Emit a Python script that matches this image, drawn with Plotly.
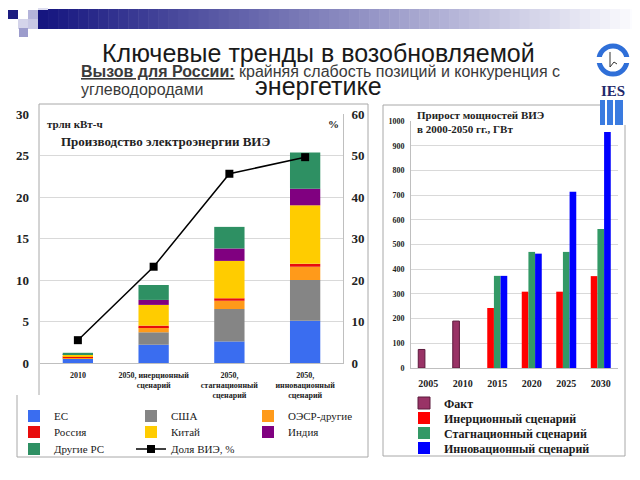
import plotly.graph_objects as go

# --- DATA: left chart (трлн кВт-ч) ---
left_categories = [
    "2010",
    "2050, инерционный<br>сценарий",
    "2050,<br>стагнационный<br>сценарий",
    "2050,<br>инновационный<br>сценарий",
]
eu = [0.5, 2.2, 2.6, 5.1]
usa = [0.1, 1.5, 3.9, 4.9]
oecd_other = [0.1, 0.6, 1.0, 1.6]
russia = [0.03, 0.2, 0.3, 0.35]
china = [0.25, 2.5, 4.5, 7.05]
india = [0.05, 0.6, 1.5, 2.0]
other_dev = [0.2, 1.8, 2.6, 4.35]
res_share = [5.5, 23.2, 45.6, 49.6]

# --- DATA: right chart (ГВт) ---
years = ["2005", "2010", "2015", "2020", "2025", "2030"]
fact = [75, 190, None, None, None, None]
inertial = [None, None, 243, 309, 309, 372]
stagnation = [None, None, 373, 470, 470, 563]
innovation = [None, None, 373, 463, 714, 955]

SERIF = "Liberation Serif"
SANS = "Liberation Sans"
# page body has an 8px margin, so the figure is a bit smaller than the window
OFF = 8
W, H = 640 - OFF, 480 - OFF


def px(x):
    return (x - OFF) / W


def py(y):
    return 1 - (y - OFF) / H


fig = go.Figure()

# left stacked bars (base carried through the list order)
left_series = [
    ("ЕС", eu, "#3A6DF0", "legend"),
    ("США", usa, "#858585", "legend"),
    ("ОЭСР-другие", oecd_other, "#FF9A1A", "legend"),
    ("Россия", russia, "#E80C0C", "legend2"),
    ("Китай", china, "#FFCC00", "legend2"),
    ("Индия", india, "#800080", "legend2"),
    ("Другие РС", other_dev, "#2E9063", "legend3"),
]
base = [0] * len(left_categories)
for name, vals, color, leg in left_series:
    fig.add_bar(
        x=left_categories, y=vals, base=list(base), name=name,
        marker=dict(color=color, line=dict(width=0)),
        width=0.4, offsetgroup="L", xaxis="x", yaxis="y", legend=leg,
    )
    base = [b + v for b, v in zip(base, vals)]

fig.add_scatter(
    x=left_categories, y=res_share, name="Доля ВИЭ, %",
    mode="lines+markers", line=dict(color="black", width=1.5),
    marker=dict(symbol="square", size=8, color="black"),
    xaxis="x", yaxis="y2", legend="legend3",
)

# right grouped bars
right_series = [
    ("Факт", fact, "#993366", "a", "legend4"),
    ("Инерционный сценарий", inertial, "#FF0000", "a", "legend5"),
    ("Стагнационный сценарий", stagnation, "#339966", "b", "legend6"),
    ("Инновационный сценарий", innovation, "#0000FF", "c", "legend7"),
]
for name, vals, color, grp, leg in right_series:
    line = dict(width=1, color="#5c1a3d") if name == "Факт" else dict(width=0)
    fig.add_bar(
        x=years, y=vals, name=name, marker=dict(color=color, line=line),
        offsetgroup=grp, xaxis="x3", yaxis="y3", legend=leg,
    )


def tick_serif(s, bold=True):
    return dict(family=SERIF, size=s, color="#222",
                weight="bold" if bold else "normal")


# --- decorations ---
shapes = []
# top banner gradient
n = 60
x0, x1 = 38, 640
for i in range(n):
    t = i / (n - 1)
    c = tuple(int(a + (b - a) * t) for a, b in zip((22, 22, 128), (252, 252, 255)))
    xa = x0 + (x1 - x0) * i / n
    xb = x0 + (x1 - x0) * (i + 1) / n + 0.5
    shapes.append(dict(type="rect", xref="paper", yref="paper",
                       x0=px(xa), x1=px(xb), y0=py(29), y1=py(9),
                       fillcolor="rgb(%d,%d,%d)" % c, line=dict(width=0)))
squares = [
    (8, 10, 18, 19, "#1c1c80"), (28, 10, 38, 20, "#b4b4da"),
    (38, 0, 48, 10, "#dcdcef"), (18, 19, 28, 29, "#d4d4ea"),
    (19, 28, 28, 37, "#9c9ccc"), (28, 19, 38, 29, "#c8c8e4"),
]
for a, b, c, d, col in squares:
    shapes.append(dict(type="rect", xref="paper", yref="paper",
                       x0=px(a), x1=px(c), y0=py(d), y1=py(b),
                       fillcolor=col, line=dict(width=0)))

# panel borders
border = dict(color="#a8a8a8", width=1)
for (a, b, c, d) in [(39, 104, 368, 104), (368, 104, 368, 457),
                     (17, 457, 368, 457), (17, 395, 17, 457),
                     (39, 104, 39, 395),
                     (383, 105, 600, 105), (383, 105, 383, 456),
                     (383, 456, 625, 456), (625, 125, 625, 456)]:
    shapes.append(dict(type="line", xref="paper", yref="paper",
                       x0=px(a), x1=px(c), y0=py(b), y1=py(d), line=border))

# logo
shapes.append(dict(type="circle", xref="paper", yref="paper",
                   x0=px(599), x1=px(627), y0=py(74), y1=py(46),
                   line=dict(color="#2f6fd8", width=5)))
for a, c in [(594, 602), (624, 632)]:
    shapes.append(dict(type="rect", xref="paper", yref="paper",
                       x0=px(a), x1=px(c), y0=py(63), y1=py(57),
                       fillcolor="white", line=dict(width=0)))
shapes.append(dict(type="path", xref="paper", yref="paper",
                   path="M %f %f L %f %f L %f %f L %f %f" % (
                       px(610), py(52), px(610), py(67), px(614), py(62), px(617), py(64)),
                   line=dict(color="#333", width=1)))
for a, c in [(600, 605), (607, 613), (615, 623)]:
    shapes.append(dict(type="rect", xref="paper", yref="paper",
                       x0=px(a), x1=px(c), y0=py(125), y1=py(100),
                       fillcolor="#3a7be0", line=dict(width=0)))


def note(text, x, y, font, xanchor="left", **kw):
    return dict(text=text, x=px(x), y=py(y), xref="paper", yref="paper",
                xanchor=xanchor, yanchor="middle", showarrow=False, font=font, **kw)


annotations = [
    note("Ключевые тренды в возобновляемой<br>энергетике", 318, 70,
         dict(family=SANS, size=25, color="#1a1a1a"), xanchor="center"),
    note("<b><u>Вызов для России:</u></b> крайняя слабость позиций и конкуренция с",
         79, 72, dict(family=SANS, size=16, color="#3a3a3a")),
    note("углеводородами", 79, 90, dict(family=SANS, size=16, color="#3a3a3a")),
    note("трлн кВт-ч", 45, 124, tick_serif(11)),
    note("%", 341, 124, tick_serif(11), xanchor="right"),
    note("Производство электроэнергии ВИЭ", 59, 141, tick_serif(13)),
    note("Прирост мощностей ВИЭ<br>в 2000-2050 гг., ГВт", 415, 122,
         tick_serif(11), align="left"),
    note("<b>IES</b>", 613, 91, dict(family=SERIF, size=15, color="#1f2a6b"),
         xanchor="center"),
]


def leg(x, y, size=11, bold=False, width=None):
    d = dict(x=px(x), y=py(y), xanchor="left", yanchor="middle",
             orientation="h", bgcolor="rgba(0,0,0,0)", borderwidth=0,
             itemclick=False,
             font=dict(family=SERIF, size=size, color="#1a1a1a",
                       weight="bold" if bold else "normal"))
    if width:
        d.update(entrywidth=width, entrywidthmode="pixels")
    return d


fig.update_layout(
    width=W, height=H, margin=dict(l=0, r=0, t=0, b=0, autoexpand=False),
    paper_bgcolor="white", plot_bgcolor="white", template="none",
    barmode="group", bargap=0.42, bargroupgap=0,
    showlegend=True,
    legend=leg(14, 416, width=72), legend2=leg(14, 432, width=72),
    legend3=leg(14, 449, width=72),
    legend4=leg(404, 403, 12, True), legend5=leg(404, 418, 12, True),
    legend6=leg(404, 433, 12, True), legend7=leg(404, 448, 12, True),
    xaxis=dict(domain=[px(40), px(343)], anchor="y", type="category",
               tickfont=tick_serif(8), showgrid=False, showline=True,
               linecolor="#bfbfbf", ticks="", tickangle=0, automargin=False,
               ticklabelstandoff=4),
    yaxis=dict(domain=[py(363), py(114)], range=[0, 30], dtick=5, anchor="x",
               gridcolor="#d9d9d9", tickfont=tick_serif(13), zeroline=False,
               showline=False, ticks="", automargin=False, ticklabelstandoff=10),
    yaxis2=dict(overlaying="y", anchor="x", side="right", range=[0, 60], dtick=10,
                showgrid=False, tickfont=tick_serif(13), zeroline=False,
                showline=True, linecolor="#bfbfbf", ticks="", automargin=False,
                ticklabelstandoff=5),
    xaxis3=dict(domain=[px(411), px(618)], anchor="y3", type="category",
                tickfont=tick_serif(10), showgrid=False, showline=True,
                linecolor="#bfbfbf", ticks="", tickangle=0, automargin=False,
                ticklabelstandoff=6),
    yaxis3=dict(domain=[py(368), py(121)], range=[0, 1000], dtick=100, anchor="x3",
                gridcolor="#d9d9d9", tickfont=tick_serif(8), zeroline=False,
                showline=True, linecolor="#bfbfbf", ticks="", automargin=False,
                ticklabelstandoff=4),
    shapes=shapes, annotations=annotations,
)

fig.write_html("out.html")
